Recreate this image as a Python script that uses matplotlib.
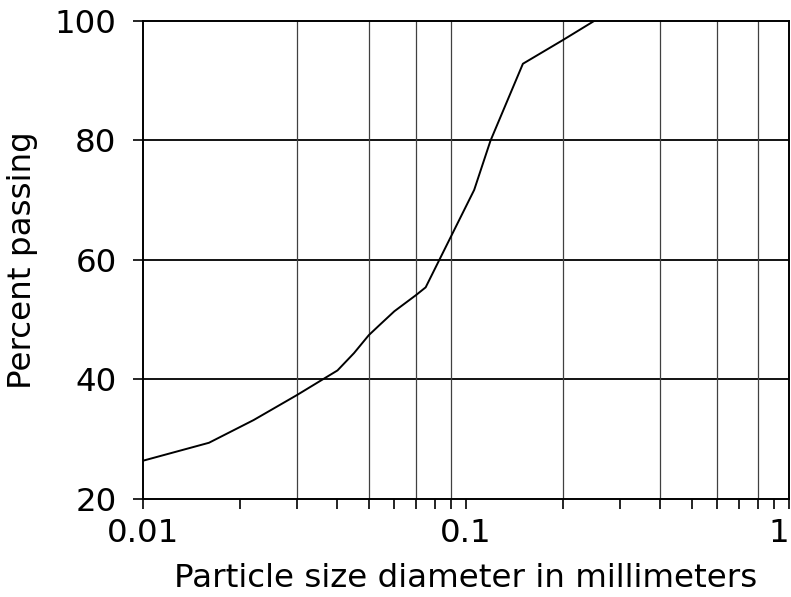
import numpy as np
import matplotlib
matplotlib.use('Agg')
import matplotlib.pyplot as plt
from matplotlib.ticker import NullFormatter, LogLocator, FixedLocator

# grain size distribution
diameter_mm = [0.010, 0.016, 0.022, 0.030, 0.036, 0.040, 0.045, 0.050, 0.054,
               0.060, 0.070, 0.075, 0.106, 0.119, 0.150, 0.200, 0.250]
percent_passing = [26.4, 29.4, 33.2, 37.4, 40.0, 41.5, 44.4, 47.4, 49.1,
                   51.4, 54.1, 55.4, 71.7, 79.9, 92.8, 96.8, 100.0]

x_ticks = [0.01, 0.1, 1]
x_tick_labels = ['0.01', '0.1', '1']
y_ticks = [20, 40, 60, 80, 100]
grid_x = [0.03, 0.05, 0.07, 0.09, 0.2, 0.4, 0.6, 0.8]

plt.rcParams['font.family'] = ['DejaVu Sans']
fs = 23.4

fig = plt.figure(figsize=(7.91, 5.97), dpi=100)
ax = fig.add_axes([0.1808, 0.1642, 0.8167, 0.8011])

ax.set_xscale('log')
ax.set_xlim(0.01, 1)
ax.set_ylim(20, 100)

# grid
for y in y_ticks[1:-1]:
    ax.axhline(y, color='black', lw=1.3, zorder=1)
for x in grid_x:
    ax.axvline(x, color='0.25', lw=0.9, zorder=1)

ax.plot(diameter_mm, percent_passing, color='black', lw=1.4, zorder=3)

ax.xaxis.set_major_locator(FixedLocator(x_ticks))
ax.set_xticklabels(x_tick_labels)
ax.xaxis.set_minor_locator(LogLocator(base=10, subs=np.arange(2, 10)))
ax.xaxis.set_minor_formatter(NullFormatter())
ax.set_yticks(y_ticks)

ax.tick_params(axis='both', which='both', direction='out', length=7, width=1.2,
               color='black', labelsize=fs)
ax.tick_params(axis='x', which='major', pad=7)
ax.tick_params(axis='y', pad=12)
# the "1" sits flush with the right edge in the original
ax.get_xticklabels()[-1].set_horizontalalignment('right')
for s in ax.spines.values():
    s.set_linewidth(1.4)
    s.set_color('black')

ax.set_xlabel('Particle size diameter in millimeters', fontsize=fs, labelpad=10)
ax.set_ylabel('Percent passing', fontsize=fs, labelpad=12)

plt.savefig('out.png', dpi=100)
print('Saved plot.')
